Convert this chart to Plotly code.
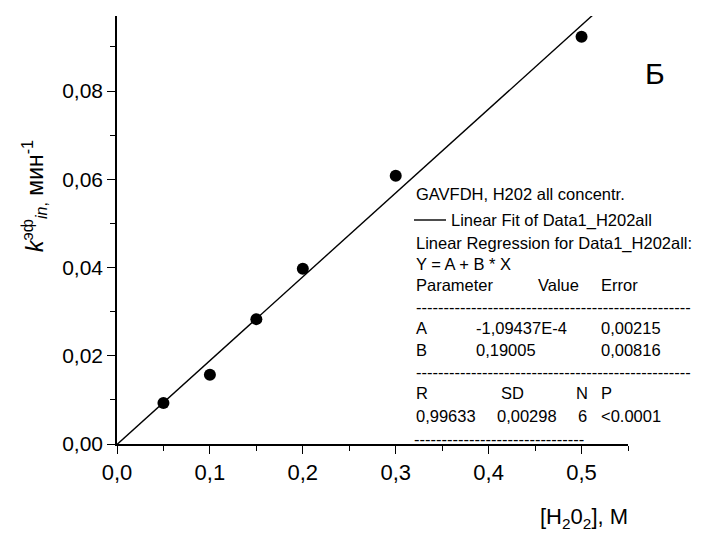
import plotly.graph_objects as go

# ---- data ----
h2o2_conc = [0.05, 0.10, 0.15, 0.20, 0.30, 0.50]
k_eff = [0.0093, 0.0157, 0.0283, 0.0397, 0.0608, 0.0923]
fit_A = -1.09437e-4
fit_B = 0.19005
fit_x = [0.0, 0.55]
x_ticks = [0.0, 0.1, 0.2, 0.3, 0.4, 0.5]
y_ticks = [0.00, 0.02, 0.04, 0.06, 0.08]

legend_title = "GAVFDH, H202 all concentr."
legend_fit = "Linear Fit of Data1_H202all"
reg_header = ["Linear Regression for Data1_H202all:", "Y = A + B * X"]
param_cols = ["Parameter", "Value", "Error"]
param_A = ["A", "-1,09437E-4", "0,00215"]
param_B = ["B", "0,19005", "0,00816"]
stat_cols = ["R", "SD", "N", "P"]
stat_vals = ["0,99633", "0,00298", "6", "<0.0001"]

# ---- layout geometry (page pixels; the page body has an 8px margin) ----
W, H = 704, 533
OFF = 8
L, R, T, B = 117, 76, 16, 89
PW, PH = W - L - R, H - T - B

def px(x):
    return (x - L) / PW

def py(y):
    return (H - B - y) / PH

FONT = "Liberation Sans, Arial, sans-serif"
LEG = 16.5

fig = go.Figure()
fig.add_trace(go.Scatter(
    x=fit_x, y=[fit_A + fit_B * v for v in fit_x], mode="lines",
    line=dict(color="black", width=1.4), showlegend=False, hoverinfo="skip"))
fig.add_trace(go.Scatter(
    x=h2o2_conc, y=k_eff, mode="markers",
    marker=dict(color="black", size=12), showlegend=False, cliponaxis=False))

ann = []

def txt(x, y, s, size=LEG, anchor="left"):
    ann.append(dict(x=px(x), y=py(y), xref="paper", yref="paper", text=s,
                    showarrow=False, xanchor=anchor, yanchor="middle",
                    font=dict(family=FONT, size=size, color="black")))

long_dash = "-" * 50
short_dash = "-" * 31

txt(414, 194, legend_title)
txt(449, 220, legend_fit)
txt(414, 243, reg_header[0])
txt(414, 264, reg_header[1])
for xx, s in zip([414, 536, 599], param_cols):
    txt(xx, 285, s)
txt(414, 307, long_dash)
for xx, s in zip([414, 474, 599], param_A):
    txt(xx, 328, s)
for xx, s in zip([414, 474, 599], param_B):
    txt(xx, 350, s)
txt(414, 372, long_dash)
for xx, s in zip([414, 499, 574, 599], stat_cols):
    txt(xx, 393, s)
for xx, s in zip([414, 495, 576, 599], stat_vals):
    txt(xx, 416, s)
txt(412, 439, short_dash)

# panel letter
txt(655, 73, "Б", size=30, anchor="center")

# axis titles
ann.append(dict(x=px(584), y=py(518), xref="paper", yref="paper",
                text="[H<sub>2</sub>0<sub>2</sub>], M", showarrow=False,
                xanchor="center", yanchor="middle",
                font=dict(family=FONT, size=22, color="black")))
ann.append(dict(x=px(34), y=py(196), xref="paper", yref="paper",
                text="<i>k</i><sup>эф</sup><sub><i>in</i>,</sub> мин<sup>-1</sup>",
                textangle=-90, showarrow=False,
                xanchor="center", yanchor="middle",
                font=dict(family=FONT, size=23, color="black")))

fig.update_layout(
    width=W - OFF, height=H - OFF,
    margin=dict(l=L - OFF, r=R, t=T - OFF, b=B, autoexpand=False),
    paper_bgcolor="white", plot_bgcolor="white",
    separators=", ",
    annotations=ann,
    shapes=[dict(type="line", xref="paper", yref="paper",
                 x0=px(414), x1=px(446), y0=py(220), y1=py(220),
                 line=dict(color="black", width=1.4))],
    font=dict(family=FONT, color="black"),
)
fig.update_xaxes(
    range=[0, 0.55], tickvals=x_ticks, tickformat=".1f",
    showgrid=False, zeroline=False, showline=True, linecolor="black", linewidth=1.6,
    ticks="outside", ticklen=8, tickwidth=1.4, tickcolor="black",
    tickfont=dict(family=FONT, size=22, color="black"),
    minor=dict(dtick=0.05, tick0=0, ticks="outside", ticklen=5, tickwidth=1.4, tickcolor="black"),
)
fig.update_yaxes(
    range=[0, 0.097], tickvals=y_ticks, tickformat=".2f",
    showgrid=False, zeroline=False, showline=True, linecolor="black", linewidth=1.6,
    ticks="outside", ticklen=8, tickwidth=1.4, tickcolor="black",
    tickfont=dict(family=FONT, size=21, color="black"),
    minor=dict(dtick=0.01, tick0=0, ticks="outside", ticklen=5, tickwidth=1.4, tickcolor="black"),
)

fig.write_html("out.html")
